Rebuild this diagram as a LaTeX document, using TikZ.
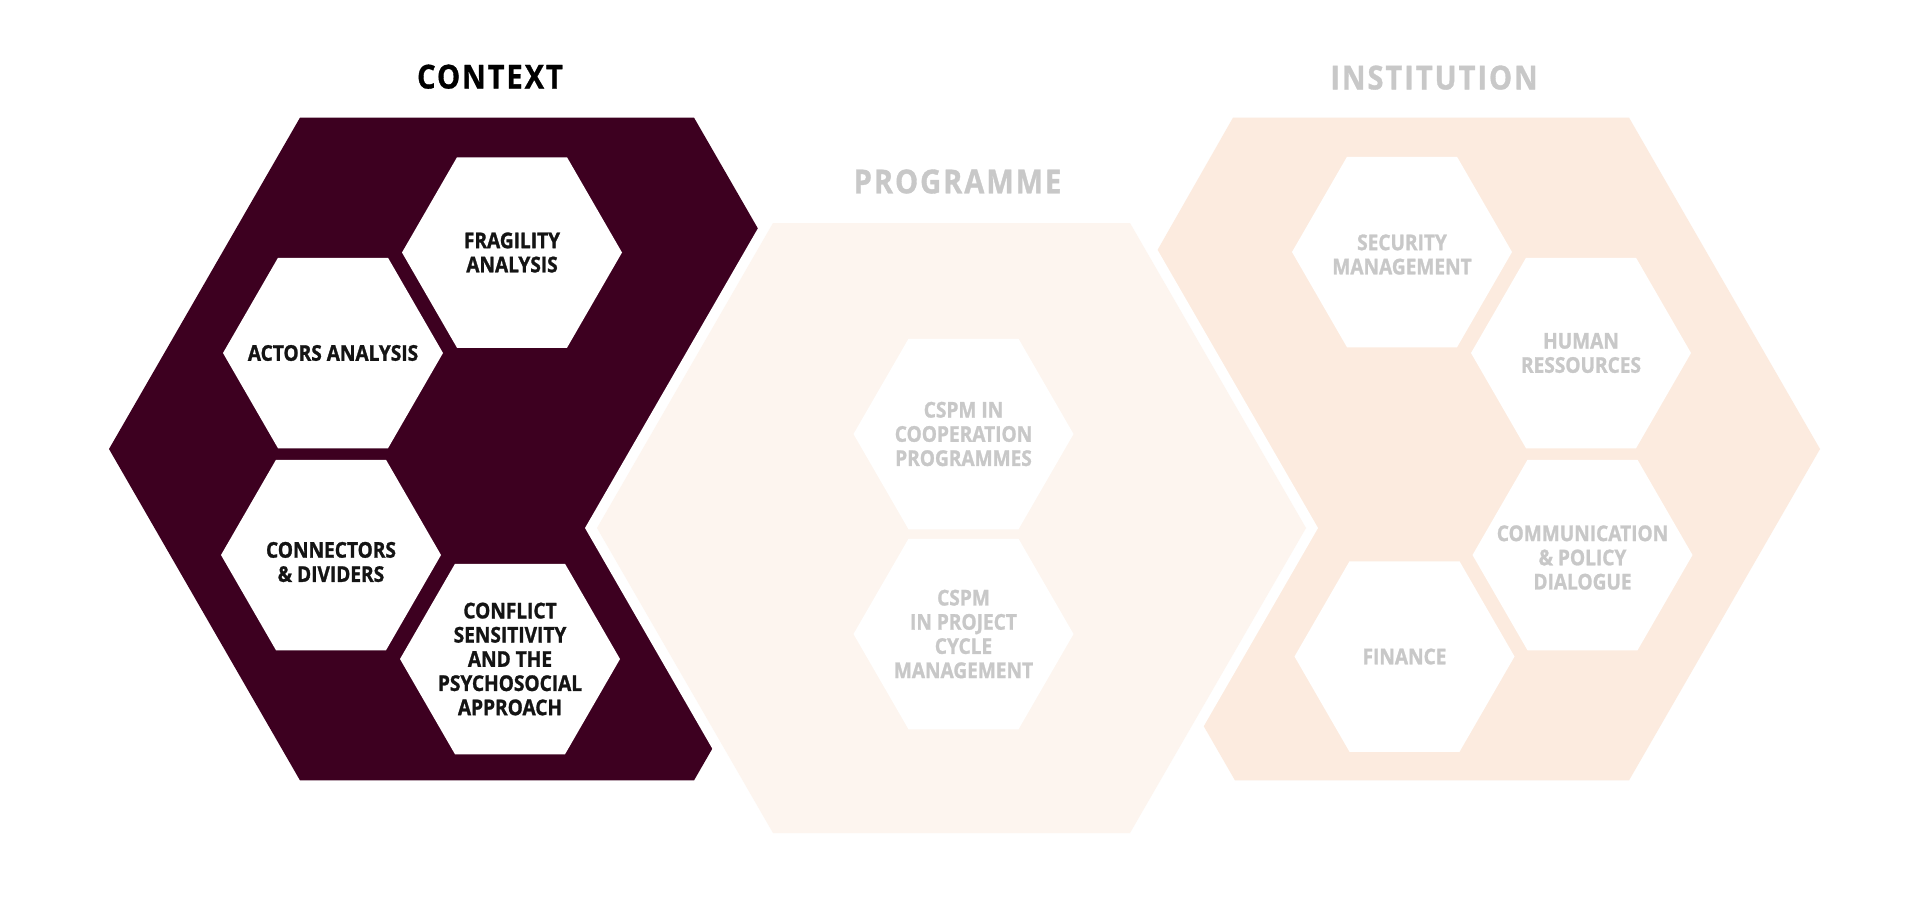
\documentclass[tikz,border=0pt]{standalone}
\usepackage{fontspec}
\setmainfont{Open Sans}[FakeStretch=0.88,BoldFeatures={FakeBold=1.2}]
\newfontfamily\titlefont{Open Sans}[FakeStretch=0.88,LetterSpace=6,BoldFeatures={FakeBold=1.0}]
\definecolor{ctxdark}{HTML}{3D0020}
\definecolor{progfill}{HTML}{FDF5EF}
\definecolor{instfill}{HTML}{FCEBDF}
\definecolor{fadetext}{HTML}{C8C8C8}
\definecolor{inktext}{HTML}{141414}
\newcommand\hexa[2]{\fill[#2] (#1) +(-110,0) -- +(-55,95.26) -- +(55,95.26) -- +(110,0) -- +(55,-95.26) -- +(-55,-95.26) -- cycle;}
\begin{document}
\begin{tikzpicture}[x=0.5pt,y=-0.5pt,
  cellfont/.style={font=\bfseries\fontsize{10.85pt}{12.1pt}\selectfont, align=center, inner sep=0pt},
  darkcell/.style={cellfont, text=inktext},
  fadecell/.style={cellfont, text=fadetext},
  titlestyle/.style={font=\titlefont\bfseries\fontsize{16.5pt}{18pt}\selectfont, anchor=base, inner sep=0pt}]
\useasboundingbox (0,0) rectangle (1920,907);
\fill[white] (0,0) rectangle (1920,907);
% big hexagons
\fill[ctxdark] (300,117.6) -- (694,117.6) -- (885,449) -- (694,780.4) -- (300,780.4) -- (109,449) -- cycle;
\fill[instfill] (1233,117.6) -- (1629,117.6) -- (1820,449) -- (1629,780.4) -- (1235,780.4) -- (1044,449) -- cycle;
\draw[white, line width=10.4pt, line join=miter] (773,223) -- (1130,223) -- (1306,528) -- (1130,833) -- (773,833) -- (597,528) -- cycle;
\fill[progfill] (773,223) -- (1130,223) -- (1306,528) -- (1130,833) -- (773,833) -- (597,528) -- cycle;
% cell centres
\coordinate (fragc) at (512,252.5);
\coordinate (actc) at (333,353);
\coordinate (conc) at (331,555);
\coordinate (cflc) at (510,659);
\coordinate (cpc) at (963.5,434);
\coordinate (pcmc) at (963.5,634);
\coordinate (secc) at (1402,252);
\coordinate (humc) at (1581,353);
\coordinate (comc) at (1582.5,555);
\coordinate (finc) at (1404.5,656.5);
\hexa{fragc}{white}
\hexa{actc}{white}
\hexa{conc}{white}
\hexa{cflc}{white}
\hexa{cpc}{white}
\hexa{pcmc}{white}
\hexa{secc}{white}
\hexa{humc}{white}
\hexa{comc}{white}
\hexa{finc}{white}
% titles
\node[titlestyle, text=black] (ctxtitle) at (490,88.5) {CONTEXT};
\node[titlestyle, text=fadetext] (progtitle) at (957.5,193.3) {PROGRAMME};
\node[titlestyle, text=fadetext] (insttitle) at (1434,89.4) {INSTITUTION};
% cell texts
\node[darkcell] (frag) at (fragc) {FRAGILITY\\ANALYSIS};
\node[darkcell] (act) at (actc) {ACTORS ANALYSIS};
\node[darkcell] (con) at ([yshift=-3.5pt]conc) {CONNECTORS\\\& DIVIDERS};
\node[darkcell] (cfl) at (cflc) {CONFLICT\\SENSITIVITY\\AND THE\\PSYCHOSOCIAL\\APPROACH};
\node[fadecell] (cp) at (cpc) {CSPM IN\\COOPERATION\\PROGRAMMES};
\node[fadecell] (pcm) at (pcmc) {CSPM\\IN PROJECT\\CYCLE\\MANAGEMENT};
\node[fadecell] (sec) at ([yshift=-1.25pt]secc) {SECURITY\\MANAGEMENT};
\node[fadecell] (hum) at (humc) {HUMAN\\RESSOURCES};
\node[fadecell] (com) at ([yshift=-1.25pt]comc) {COMMUNICATION\\\& POLICY\\DIALOGUE};
\node[fadecell] (fin) at (finc) {FINANCE};
\end{tikzpicture}
\end{document}
